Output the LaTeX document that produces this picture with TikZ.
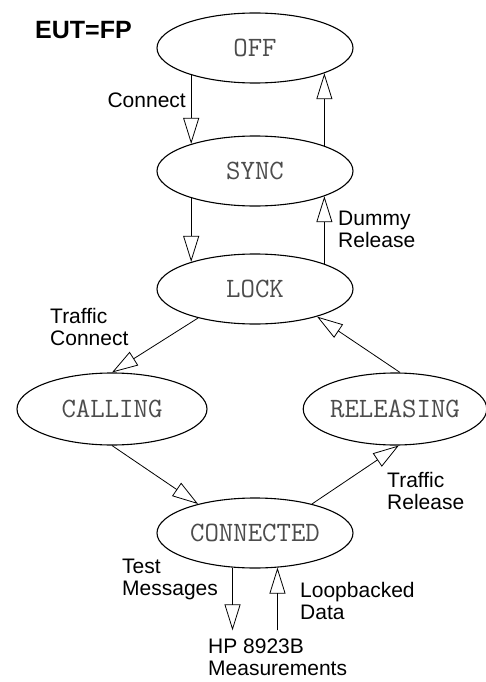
\documentclass[tikz,border=0pt]{standalone}
\usepackage{fontspec}
\setmainfont{Liberation Sans}
\usepackage{tikz}
\usetikzlibrary{shapes.geometric,arrows.meta,calc}

\begin{document}
\begin{tikzpicture}[x=1pt, y=-1pt,
    state/.style={ellipse, draw, line width=1.1pt, minimum width=196pt, minimum height=70pt,
        inner sep=0pt, font=\ttfamily\fontsize{28}{28}\selectfont, text=black!70},
    lbl/.style={align=left, inner sep=0pt, font=\fontsize{21}{22}\selectfont},
    flow/.style={-{Triangle[open, length=26pt, width=16pt]}, line width=0.8pt}]
    \useasboundingbox (0,0) rectangle (486,682);

    \node (eut) [anchor=west, inner sep=0pt, font=\bfseries\fontsize{25}{25}\selectfont] at (35,30) {EUT=FP};

    \node (off) [state] at (255,48) {OFF};
    \node (sync) [state] at (255,171) {SYNC};
    \node (lock) [state] at (255,289) {LOCK};
    \node (calling) [state, minimum width=190pt, minimum height=72pt] at (112,409) {CALLING};
    \node (releasing) [state, minimum width=178pt, minimum height=72pt] at (395,409) {RELEASING};
    \node (connected) [state] at (255,533) {CONNECTED};
    \node (hp) [lbl, anchor=west, inner sep=0pt] at (208,657) {HP 8923B\\Measurements};

    \node (connect) [lbl, anchor=east] at (186,100) {Connect};
    \node (dummy) [lbl, anchor=west] at (338,229) {Dummy\\Release};
    \node (tconnect) [lbl, anchor=west] at (50,327) {Traffic\\Connect};
    \node (trelease) [lbl, anchor=west] at (387,491) {Traffic\\Release};
    \node (test) [lbl, anchor=west] at (122,579) {Test\\Messages};
    \node (loop) [lbl, anchor=west] at (300,601) {Loopbacked\\Data};

    \coordinate (hptop) at ($(hp.north)+(0,-8)$);

    \draw[flow] (off.203) -- (sync.157);
    \draw[flow] (sync.20) -- (off.340);
    \draw[flow] (sync.203) -- (lock.157);
    \draw[flow] (lock.20) -- (sync.340);
    \draw[flow] (lock.207) -- (calling.north);
    \draw[flow] (releasing.82) -- (lock.336);
    \draw[flow] (calling.south) -- (connected.153);
    \draw[flow] (connected.27) -- (releasing.276);
    \draw[flow] (connected.237) -- (connected.237 |- hptop);
    \draw[flow] (connected.303 |- hptop) -- (connected.303);
\end{tikzpicture}
\end{document}
